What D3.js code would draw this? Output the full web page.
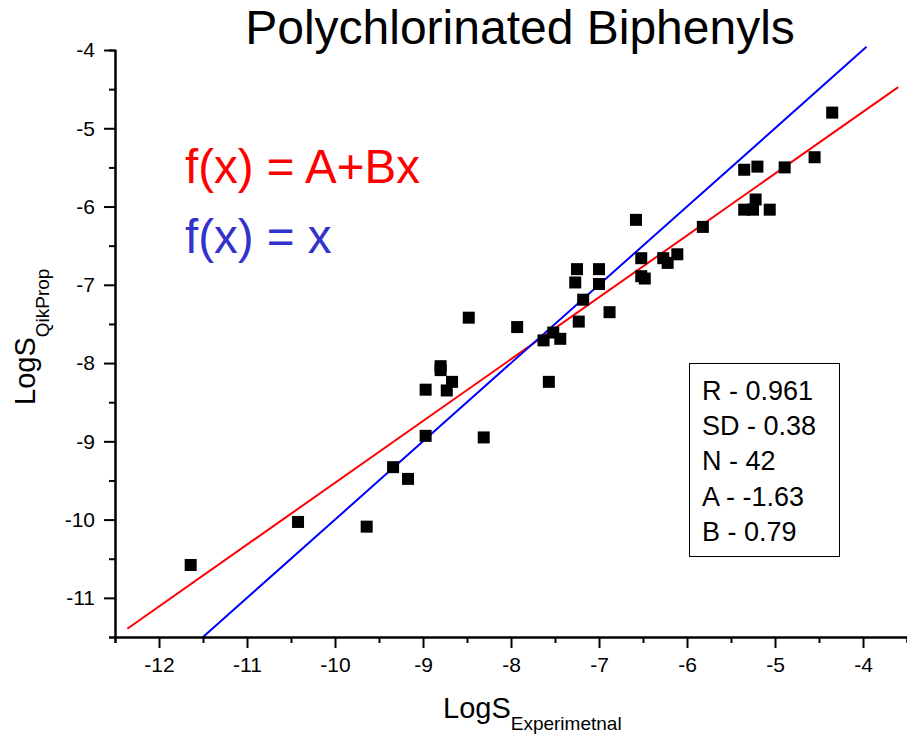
<!DOCTYPE html>
<html>
<head>
<meta charset="utf-8">
<script src="https://cdn.jsdelivr.net/npm/d3@7"></script>
<style>
  body { margin: 0; background: #fff; }
  text { font-family: "Liberation Sans", Arial, sans-serif; }
</style>
</head>
<body>
<script>
// data
var logSExp = [-11.64, -10.42, -9.64, -9.34, -9.17, -8.97, -8.97, -8.80, -8.80, -8.73,
               -8.67, -8.48, -8.31, -7.93, -7.63, -7.57, -7.52, -7.44, -7.27, -7.25,
               -7.23, -7.18, -7.00, -7.00, -6.88, -6.58, -6.52, -6.52, -6.48, -6.27,
               -6.22, -6.11, -5.82, -5.35, -5.35, -5.25, -5.22, -5.20, -5.06, -4.89,
               -4.55, -4.35];
var logSQik = [-10.58, -10.03, -10.09, -9.33, -9.48, -8.34, -8.93, -8.04, -8.09, -8.35,
               -8.24, -7.42, -8.95, -7.54, -7.71, -8.24, -7.61, -7.69, -6.97, -6.80,
               -7.47, -7.19, -6.80, -6.99, -7.35, -6.17, -6.66, -6.89, -6.92, -6.66,
               -6.72, -6.61, -6.26, -5.53, -6.04, -6.04, -5.91, -5.49, -6.04, -5.50,
               -5.37, -4.80];
var fitA = -1.63, fitB = 0.79;
var fitRange = [-12.36, -3.6],
    identRange = [-11.5, -3.96];
var xMajor = [-12, -11, -10, -9, -8, -7, -6, -5, -4],
    xMinor = [-12.5, -11.5, -10.5, -9.5, -8.5, -7.5, -6.5, -5.5, -4.5, -3.5],
    yMajor = [-11, -10, -9, -8, -7, -6, -5, -4],
    yMinor = [-11.5, -10.5, -9.5, -8.5, -7.5, -6.5, -5.5, -4.5];
var statLines = ["R - 0.961", "SD - 0.38", "N - 42", "A - -1.63", "B - 0.79"];

var canvasWidth = 907, canvasHeight = 736;

var figure = d3.select("body")
    .append("svg")
        .attr("width", canvasWidth)
        .attr("height", canvasHeight);

var x = d3.scaleLinear().domain([-12.5, -3.5]).range([115, 907]);
var y = d3.scaleLinear().domain([-11.5, -4]).range([637, 50]);

// title
figure.append("text")
    .attr("x", 520).attr("y", 44)
    .attr("text-anchor", "middle")
    .style("font-size", "48px")
    .text("Polychlorinated Biphenyls");

// fit lines
var line = d3.line().x(function(d) { return x(d[0]); }).y(function(d) { return y(d[1]); });
figure.append("path")
    .datum(fitRange.map(function(v) { return [v, fitA + fitB * v]; }))
    .attr("d", line)
    .attr("fill", "none").attr("stroke", "#ff0000").attr("stroke-width", 2);
figure.append("path")
    .datum(identRange.map(function(v) { return [v, v]; }))
    .attr("d", line)
    .attr("fill", "none").attr("stroke", "#0000ff").attr("stroke-width", 2);

// points
figure.append("g")
    .selectAll("rect")
    .data(logSExp)
    .enter()
    .append("rect")
    .attr("x", function(d) { return x(d) - 6; })
    .attr("y", function(d, i) { return y(logSQik[i]) - 6; })
    .attr("width", 12).attr("height", 12)
    .attr("fill", "#000");

// axes
function styleAxis(g) {
    g.selectAll("path, line").attr("stroke", "#000").attr("stroke-width", 2);
    g.selectAll("text").style("font-size", "21px").attr("fill", "#000");
    g.attr("font-family", null);
}
figure.append("g")
    .attr("transform", "translate(0," + y.range()[0] + ")")
    .call(d3.axisBottom(x).tickValues(xMinor).tickSize(6).tickFormat(""))
    .call(styleAxis);
figure.append("g")
    .attr("transform", "translate(0," + y.range()[0] + ")")
    .call(d3.axisBottom(x).tickValues(xMajor).tickSize(11).tickSizeOuter(0).tickPadding(9)
        .tickFormat(d3.format("d")))
    .call(styleAxis);
figure.append("g")
    .attr("transform", "translate(" + x.range()[0] + ",0)")
    .call(d3.axisLeft(y).tickValues(yMinor).tickSize(6).tickFormat(""))
    .call(styleAxis);
figure.append("g")
    .attr("transform", "translate(" + x.range()[0] + ",0)")
    .call(d3.axisLeft(y).tickValues(yMajor).tickSize(11).tickSizeOuter(0).tickPadding(9)
        .tickFormat(d3.format("d")))
    .call(styleAxis);
// use a plain hyphen for the minus sign like the original
figure.selectAll(".tick text").text(function() { return this.textContent.replace("\u2212", "-"); });

// axis titles
var xt = figure.append("text").attr("x", 443).attr("y", 718).style("font-size", "29px");
xt.append("tspan").text("LogS");
xt.append("tspan").attr("dy", 12).style("font-size", "19px").text("Experimetnal");

var yt = figure.append("text")
    .attr("transform", "translate(35,405) rotate(-90)")
    .style("font-size", "29px");
yt.append("tspan").text("LogS");
yt.append("tspan").attr("dy", 14).style("font-size", "19px").text("QikProp");

// equations
figure.append("text").attr("x", 185).attr("y", 183)
    .attr("fill", "#ff0000").style("font-size", "47.5px").text("f(x) = A+Bx");
figure.append("text").attr("x", 185).attr("y", 253)
    .attr("fill", "#3333cc").style("font-size", "47.5px").text("f(x) = x");

// stats box
var box = figure.append("g").attr("transform", "translate(689,363)");
box.append("rect")
    .attr("x", 0.5).attr("y", 0.5).attr("width", 150).attr("height", 193)
    .attr("fill", "#fff").attr("stroke", "#000").attr("stroke-width", 1);
box.selectAll("text.stat")
    .data(statLines)
    .enter()
    .append("text")
    .attr("class", "stat")
    .attr("x", 13)
    .attr("y", function(d, i) { return 37 + i * 35.2; })
    .style("font-size", "27px")
    .text(function(d) { return d; });
</script>
</body>
</html>
